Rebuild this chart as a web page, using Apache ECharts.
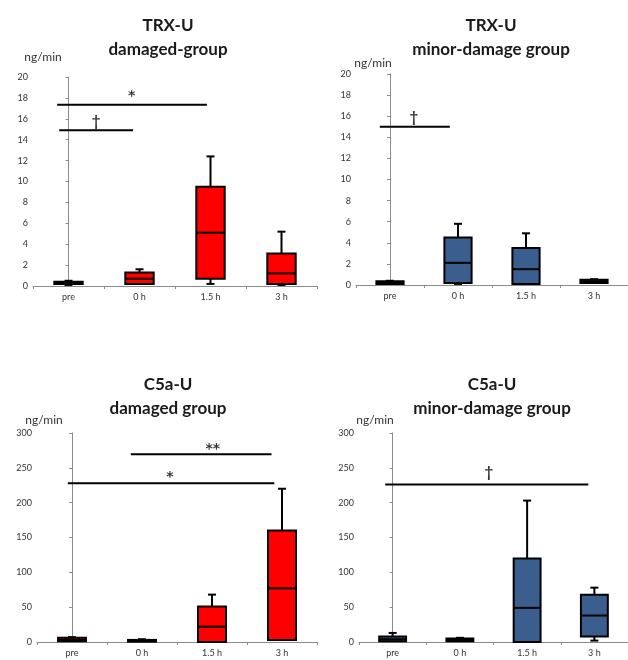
<!DOCTYPE html>
<html>
<head>
<meta charset="utf-8">
<script src="https://cdn.jsdelivr.net/npm/echarts@6/dist/echarts.min.js"></script>
<style>html,body{margin:0;padding:0;background:#fff}#c{width:628px;height:660px}</style>
</head>
<body>
<div id="c"></div>
<script>
// categories
const categories = ['pre', '0 h', '1.5 h', '3 h'];
// box values per category: [min, q1, median, q3, max]
const trxDamaged = [[0.1,0.2,0.3,0.4,0.5],[0.2,0.2,0.7,1.3,1.6],[0.2,0.7,5.1,9.5,12.4],[0.1,0.2,1.2,3.1,5.2]];
const trxMinor   = [[0.1,0.1,0.25,0.35,0.4],[0.1,0.2,2.1,4.5,5.8],[0.1,0.1,1.5,3.5,4.9],[0.2,0.2,0.35,0.5,0.55]];
const c5aDamaged = [[1,1,3,6,7],[0.5,0.5,2,3,4],[0,0,22,51,68],[3,3,77,160,220]];
const c5aMinor   = [[1,1,4,8,13],[1,1,3,5,6],[0,0,49,120,203],[2,8,38,68,78]];
// significance bars: [xStart, xEnd, y] in category-index units
const trxDamagedSig = [[-0.16,1.95,17.35],[-0.13,0.91,14.9]];
const trxMinorSig   = [[-0.15,0.88,15.0]];
const c5aDamagedSig = [[0.84,2.85,269.4],[-0.06,2.89,227.8]];
const c5aMinorSig   = [[-0.11,2.91,226]];
// significance marks: [x, y, text]
const trxDamagedMarks = [[0.89,18.1,'*'],[0.39,15.8,'†']];
const trxMinorMarks   = [[0.35,15.9,'†']];
const c5aDamagedMarks = [[2.01,276,'**'],[1.4,236,'*']];
const c5aMinorMarks   = [[1.43,244,'†']];
// y axis ticks
const trxTicks = {min: 0, max: 20, interval: 2};
const c5aTicks = {min: 0, max: 300, interval: 50};
// titles
const titles = [['TRX-U','damaged-group'],['TRX-U','minor-damage group'],['C5a-U','damaged group'],['C5a-U','minor-damage group']];
const unit = 'ng/min';

const RED = '#FF0000', BLUE = '#3A5F8F';
const FONT = 'Lato, "Liberation Sans", sans-serif';

const panels = [
  {data: trxDamaged, sig: trxDamagedSig, marks: trxDamagedMarks, ticks: trxTicks, color: RED,
   grid: {left: 33, top: 77, width: 284, height: 209}, tx: 163, ty: 9, ux: 38, uy: 46},
  {data: trxMinor, sig: trxMinorSig, marks: trxMinorMarks, ticks: trxTicks, color: BLUE,
   grid: {left: 356, top: 74, width: 284, height: 211}, tx: 486, ty: 9, ux: 368, uy: 52},
  {data: c5aDamaged, sig: c5aDamagedSig, marks: c5aDamagedMarks, ticks: c5aTicks, color: RED,
   grid: {left: 37, top: 433, width: 280, height: 209}, tx: 163, ty: 368, ux: 39, uy: 409},
  {data: c5aMinor, sig: c5aMinorSig, marks: c5aMinorMarks, ticks: c5aTicks, color: BLUE,
   grid: {left: 359, top: 433, width: 282, height: 209}, tx: 487, ty: 368, ux: 370, uy: 409}
];

const option = {animation: false, grid: [], xAxis: [], yAxis: [], title: [], series: []};

panels.forEach((p, i) => {
  option.grid.push(Object.assign({containLabel: false}, p.grid));
  option.xAxis.push({
    type: 'category', gridIndex: i, data: categories,
    axisLine: {lineStyle: {color: '#8c8c8c', width: 1}},
    axisTick: {show: true, length: 3, lineStyle: {color: '#8c8c8c'}},
    axisLabel: {fontSize: 9, color: '#333', margin: 7, fontFamily: FONT},
    splitLine: {show: false}
  });
  option.xAxis.push({type: 'value', gridIndex: i, min: -0.5, max: 3.5, show: false});
  option.yAxis.push({
    type: 'value', gridIndex: i, min: p.ticks.min, max: p.ticks.max, interval: p.ticks.interval,
    axisLine: {show: true, lineStyle: {color: '#8c8c8c', width: 1}},
    axisTick: {show: true, length: 3, lineStyle: {color: '#8c8c8c'}},
    axisLabel: {fontSize: 9, color: '#333', margin: 5, fontFamily: FONT},
    splitLine: {show: false}
  });
  option.title.push({
    text: titles[i][0] + '\n' + titles[i][1], left: p.tx, top: p.ty, textAlign: 'center',
    textStyle: {fontSize: 17, fontWeight: 'bold', color: '#1a1a1a', lineHeight: 24, fontFamily: FONT}
  });
  option.title.push({
    text: unit, left: p.ux, top: p.uy, textAlign: 'center',
    textStyle: {fontSize: 12, fontWeight: 'normal', color: '#333', fontFamily: FONT}
  });
  const color = p.color;
  option.series.push({
    type: 'custom', xAxisIndex: 2 * i, yAxisIndex: i,
    data: p.data.map((d, k) => [k].concat(d)),
    encode: {x: 0, y: [1, 2, 3, 4, 5]},
    renderItem: function (params, api) {
      const k = api.value(0);
      const mn = api.value(1), q1 = api.value(2), md = api.value(3), q3 = api.value(4), mx = api.value(5);
      const cx = api.coord([k, md])[0];
      const bw = api.size([1, 0])[0] * 0.4;
      const y = v => api.coord([k, v])[1];
      const cap = 4;
      const ls = {stroke: '#000', lineWidth: 2};
      const ch = [];
      if (mx > q3) {
        ch.push({type: 'line', shape: {x1: cx, y1: y(q3), x2: cx, y2: y(mx)}, style: ls});
        ch.push({type: 'line', shape: {x1: cx - cap, y1: y(mx), x2: cx + cap, y2: y(mx)}, style: ls});
      }
      if (mn < q1) {
        ch.push({type: 'line', shape: {x1: cx, y1: y(q1), x2: cx, y2: y(mn)}, style: ls});
        ch.push({type: 'line', shape: {x1: cx - cap, y1: y(mn), x2: cx + cap, y2: y(mn)}, style: ls});
      }
      ch.push({type: 'rect', shape: {x: cx - bw / 2, y: y(q3), width: bw, height: y(q1) - y(q3)},
               style: {fill: color, stroke: '#000', lineWidth: 2}});
      ch.push({type: 'line', shape: {x1: cx - bw / 2, y1: y(md), x2: cx + bw / 2, y2: y(md)}, style: ls});
      return {type: 'group', children: ch};
    },
    z: 3
  });
  p.sig.forEach(s => {
    option.series.push({
      type: 'line', xAxisIndex: 2 * i + 1, yAxisIndex: i, symbol: 'none',
      data: [[s[0], s[2]], [s[1], s[2]]],
      lineStyle: {color: '#000', width: 2}, silent: true
    });
  });
  option.series.push({
    type: 'scatter', xAxisIndex: 2 * i + 1, yAxisIndex: i, symbolSize: 0,
    data: p.marks.map(m => ({value: [m[0], m[1]], label: m[2] === '†'
      ? {formatter: m[2], fontSize: 15, fontWeight: 'bold', fontFamily: FONT}
      : {formatter: m[2], fontSize: 14, fontWeight: 'bold', fontFamily: '"DejaVu Sans", sans-serif'}})),
    label: {show: true, position: 'inside', color: '#000', fontSize: 15, fontFamily: FONT}
  });
});

const chart = echarts.init(document.getElementById('c'), null, {renderer: 'canvas'});
chart.setOption(option);
</script>
</body>
</html>
